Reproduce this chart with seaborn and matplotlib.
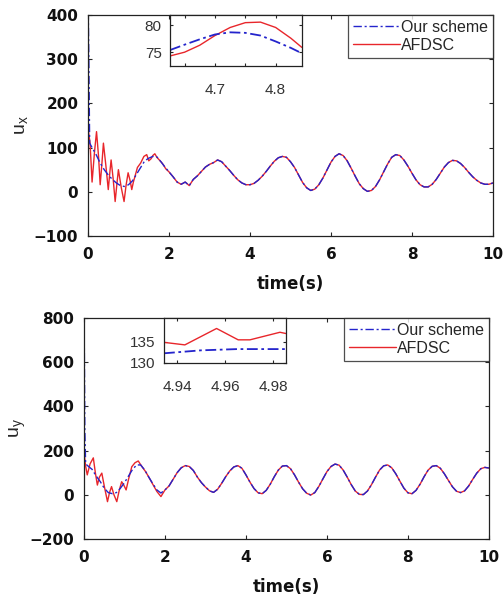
import matplotlib
matplotlib.use("Agg")
import matplotlib.pyplot as plt
import numpy as np
import seaborn as sns

# ---- u_x data ----
ux_blue_t_early = [0.0, 0.004, 0.02, 0.04, 0.1, 0.2, 0.3, 0.4, 0.5, 0.6, 0.7, 0.8, 0.9,
                   1.0, 1.1, 1.2, 1.3, 1.4, 1.5, 1.6, 1.7, 1.8, 1.9]
ux_blue_early = [0, 420, 300, 110, 100, 84, 65, 50, 38, 28, 20, 14, 12,
                 16, 25, 40, 55, 70, 76, 80, 79, 68, 56]

ux_red_t_early = [0.0, 0.005, 0.05, 0.1, 0.16, 0.21, 0.26, 0.3, 0.34, 0.38, 0.44, 0.5,
                  0.54, 0.57, 0.62, 0.67, 0.71, 0.75, 0.82, 0.89, 0.94, 0.99, 1.04,
                  1.08, 1.12, 1.16, 1.22, 1.3, 1.38, 1.45, 1.5, 1.56, 1.6, 1.65, 1.7,
                  1.76, 1.82, 1.86, 1.92]
ux_red_early = [0, 140, 110, 22, 90, 136, 80, 16, 60, 110, 60, 5,
                45, 72, 30, -22, 15, 50, 10, -22, 15, 43, 25,
                5, 22, 35, 55, 65, 80, 84, 70, 75, 82, 86, 78,
                72, 66, 61, 52]

late_t = [round(2.0 + 0.1 * i, 1) for i in range(81)]
ux_late = [45, 34, 22, 17, 22, 14, 28, 36, 46, 56, 62, 66, 72, 68, 58, 48, 37, 27, 20, 16,
           16, 19, 26, 35, 46, 58, 69, 77, 80, 78, 68, 55, 38, 21, 9, 3,
           6, 16, 31, 49, 67, 80, 86, 82, 70, 53, 35, 18, 7, 1, 3,
           12, 27, 45, 63, 78, 84, 82, 72, 58, 42, 27, 16, 11, 11,
           17, 28, 42, 56, 66, 71, 70, 64, 55, 44, 34, 26, 20, 17, 17, 20]

# inset of u_x around t = 4.75
ux_zoom_t = [4.626, 4.65, 4.675, 4.70, 4.725, 4.75, 4.775, 4.80, 4.825, 4.843]
ux_zoom_blue = [75.4, 76.4, 77.4, 78.3, 78.7, 78.6, 78.1, 77.0, 75.8, 74.8]
ux_zoom_red = [74.3, 75.0, 76.3, 78.1, 79.6, 80.5, 80.6, 79.6, 77.6, 75.9]

# ---- u_y data ----
uy_blue_t_early = [0.0, 0.004, 0.02, 0.04, 0.1, 0.2, 0.3, 0.4, 0.5, 0.6, 0.7, 0.8, 0.9,
                   1.0, 1.1, 1.2, 1.3, 1.4, 1.5, 1.6, 1.7, 1.8, 1.9]
uy_blue_early = [0, 790, 300, 140, 130, 115, 85, 60, 30, 10, 5, 10, 30,
                 55, 85, 115, 135, 135, 112, 80, 50, 22, 8]

uy_red_t_early = [0.0, 0.005, 0.04, 0.08, 0.15, 0.23, 0.28, 0.33, 0.38, 0.44, 0.5, 0.58,
                  0.63, 0.68, 0.74, 0.81, 0.87, 0.93, 0.98, 1.04, 1.1, 1.18, 1.26,
                  1.34, 1.42, 1.52, 1.6, 1.71, 1.8, 1.9]
uy_red_early = [0, 185, 130, 90, 140, 167, 100, 44, 80, 98, 40, -31,
                10, 37, 0, -31, 20, 59, 45, 22, 70, 127, 145,
                153, 130, 105, 80, 44, 15, -8]

uy_late = [22, 40, 70, 100, 122, 132, 128, 110, 80, 55, 35, 18, 11, 25, 52, 82, 108, 126, 132, 120,
           90, 57, 28, 9, 5, 20, 48, 82, 112, 130, 132, 118, 90, 57, 27, 7,
           -1, 10, 38, 72, 105, 128, 139, 134, 112, 80, 46, 17, 2, 1, 17,
           46, 80, 112, 131, 135, 122, 95, 62, 30, 9, 5, 20, 48, 82,
           112, 129, 132, 120, 95, 65, 36, 16, 10, 18, 40, 70, 98, 118, 124, 121]

# inset of u_y around t = 4.96
uy_zoom_t_red = [4.9346, 4.9433, 4.9565, 4.9655, 4.9704, 4.9829, 4.9854]
uy_zoom_red = [134.9, 134.3, 138.2, 135.5, 135.5, 137.3, 137.0]
uy_zoom_t_blue = [4.9346, 4.9500, 4.9650, 4.9854]
uy_zoom_blue = [132.3, 133.0, 133.3, 133.3]

BLUE = "#2424cc"
RED = "#e8262b"
DASHDOT = (0, (6, 2, 1.5, 2))

sns.set_theme(style="ticks")
plt.rcParams["font.family"] = ["Liberation Sans", "DejaVu Sans"]
plt.rcParams["xtick.direction"] = "in"
plt.rcParams["ytick.direction"] = "in"
plt.rcParams["axes.edgecolor"] = "#222222"
plt.rcParams["axes.linewidth"] = 0.9

fig = plt.figure(figsize=(5.03, 5.96), dpi=100)


def draw_main(rect, t_blue, v_blue, t_red, v_red, ylim, yticks, ylabel, ylabelpad):
    ax = fig.add_axes(rect)
    sns.lineplot(x=t_red, y=v_red, ax=ax, color=RED, lw=1.0, sort=False,
                 estimator=None, label="AFDSC")
    sns.lineplot(x=t_blue, y=v_blue, ax=ax, color=BLUE, lw=1.0, sort=False,
                 estimator=None, linestyle=DASHDOT, label="Our scheme")
    ax.set_xlim(0, 10)
    ax.set_ylim(*ylim)
    ax.set_xticks([0, 2, 4, 6, 8, 10])
    ax.set_yticks(yticks)
    ax.tick_params(top=True, right=True, length=3, width=0.8, labelsize=11)
    ax.tick_params(axis="x", pad=8)
    ax.tick_params(axis="y", pad=7)
    for lab in ax.get_xticklabels() + ax.get_yticklabels():
        lab.set_fontweight("bold")
        lab.set_family("DejaVu Sans")
        lab.set_color("#111111")
    ax.set_xlabel("time(s)", fontsize=12, fontweight="bold", family="DejaVu Sans",
                  labelpad=9, color="#111111")
    ax.set_ylabel(ylabel, fontsize=14, labelpad=ylabelpad)
    h, l = ax.get_legend_handles_labels()
    leg = ax.legend(h[::-1], l[::-1], loc="upper right", fontsize=11.5, handlelength=2.9,
                    handletextpad=0.1, borderaxespad=0, frameon=True, fancybox=False,
                    borderpad=0.3, labelspacing=0.2)
    leg.get_frame().set_edgecolor("#222222")
    leg.get_frame().set_linewidth(0.9)
    return ax


def draw_inset(rect, t_blue, v_blue, t_red, v_red, xlim, ylim, xticks, xlabels, yticks):
    ax = fig.add_axes(rect)
    sns.lineplot(x=t_red, y=v_red, ax=ax, color=RED, lw=1.0, sort=False, estimator=None)
    sns.lineplot(x=t_blue, y=v_blue, ax=ax, color=BLUE, lw=1.3, sort=False,
                 estimator=None, linestyle=DASHDOT)
    ax.set_xlim(*xlim)
    ax.set_ylim(*ylim)
    ax.set_xticks(xticks)
    ax.set_xticklabels(xlabels)
    ax.set_yticks(yticks)
    ax.tick_params(top=True, right=True, length=2.5, width=0.8, labelsize=11,
                   labelcolor="#333333")
    ax.tick_params(axis="x", pad=12)
    ax.tick_params(axis="y", pad=6)
    ax.set_xlabel("")
    ax.set_ylabel("")
    return ax


draw_main([0.175, 0.604, 0.805, 0.371],
          np.concatenate([ux_blue_t_early, late_t]), np.concatenate([ux_blue_early, ux_late]),
          np.concatenate([ux_red_t_early, late_t]), np.concatenate([ux_red_early, ux_late]),
          (-100, 400), [-100, 0, 100, 200, 300, 400], r"$\mathregular{u_x}$", 3)
draw_inset([0.338, 0.889, 0.262, 0.0856], ux_zoom_t, ux_zoom_blue, ux_zoom_t, ux_zoom_red,
           (4.626, 4.843), (72.4, 81.9), [4.65, 4.7, 4.75, 4.8], ["", "4.7", "", "4.8"],
           [75, 80])

draw_main([0.167, 0.0956, 0.805, 0.371],
          np.concatenate([uy_blue_t_early, late_t]), np.concatenate([uy_blue_early, uy_late]),
          np.concatenate([uy_red_t_early, late_t]), np.concatenate([uy_red_early, uy_late]),
          (-200, 800), [-200, 0, 200, 400, 600, 800], r"$\mathregular{u_y}$", 1)
draw_inset([0.326, 0.391, 0.2425, 0.0755], uy_zoom_t_blue, uy_zoom_blue,
           uy_zoom_t_red, uy_zoom_red,
           (4.9346, 4.9854), (130.0, 140.7), [4.94, 4.96, 4.98], ["4.94", "4.96", "4.98"],
           [130, 135])

fig.savefig("out.png", dpi=100)
